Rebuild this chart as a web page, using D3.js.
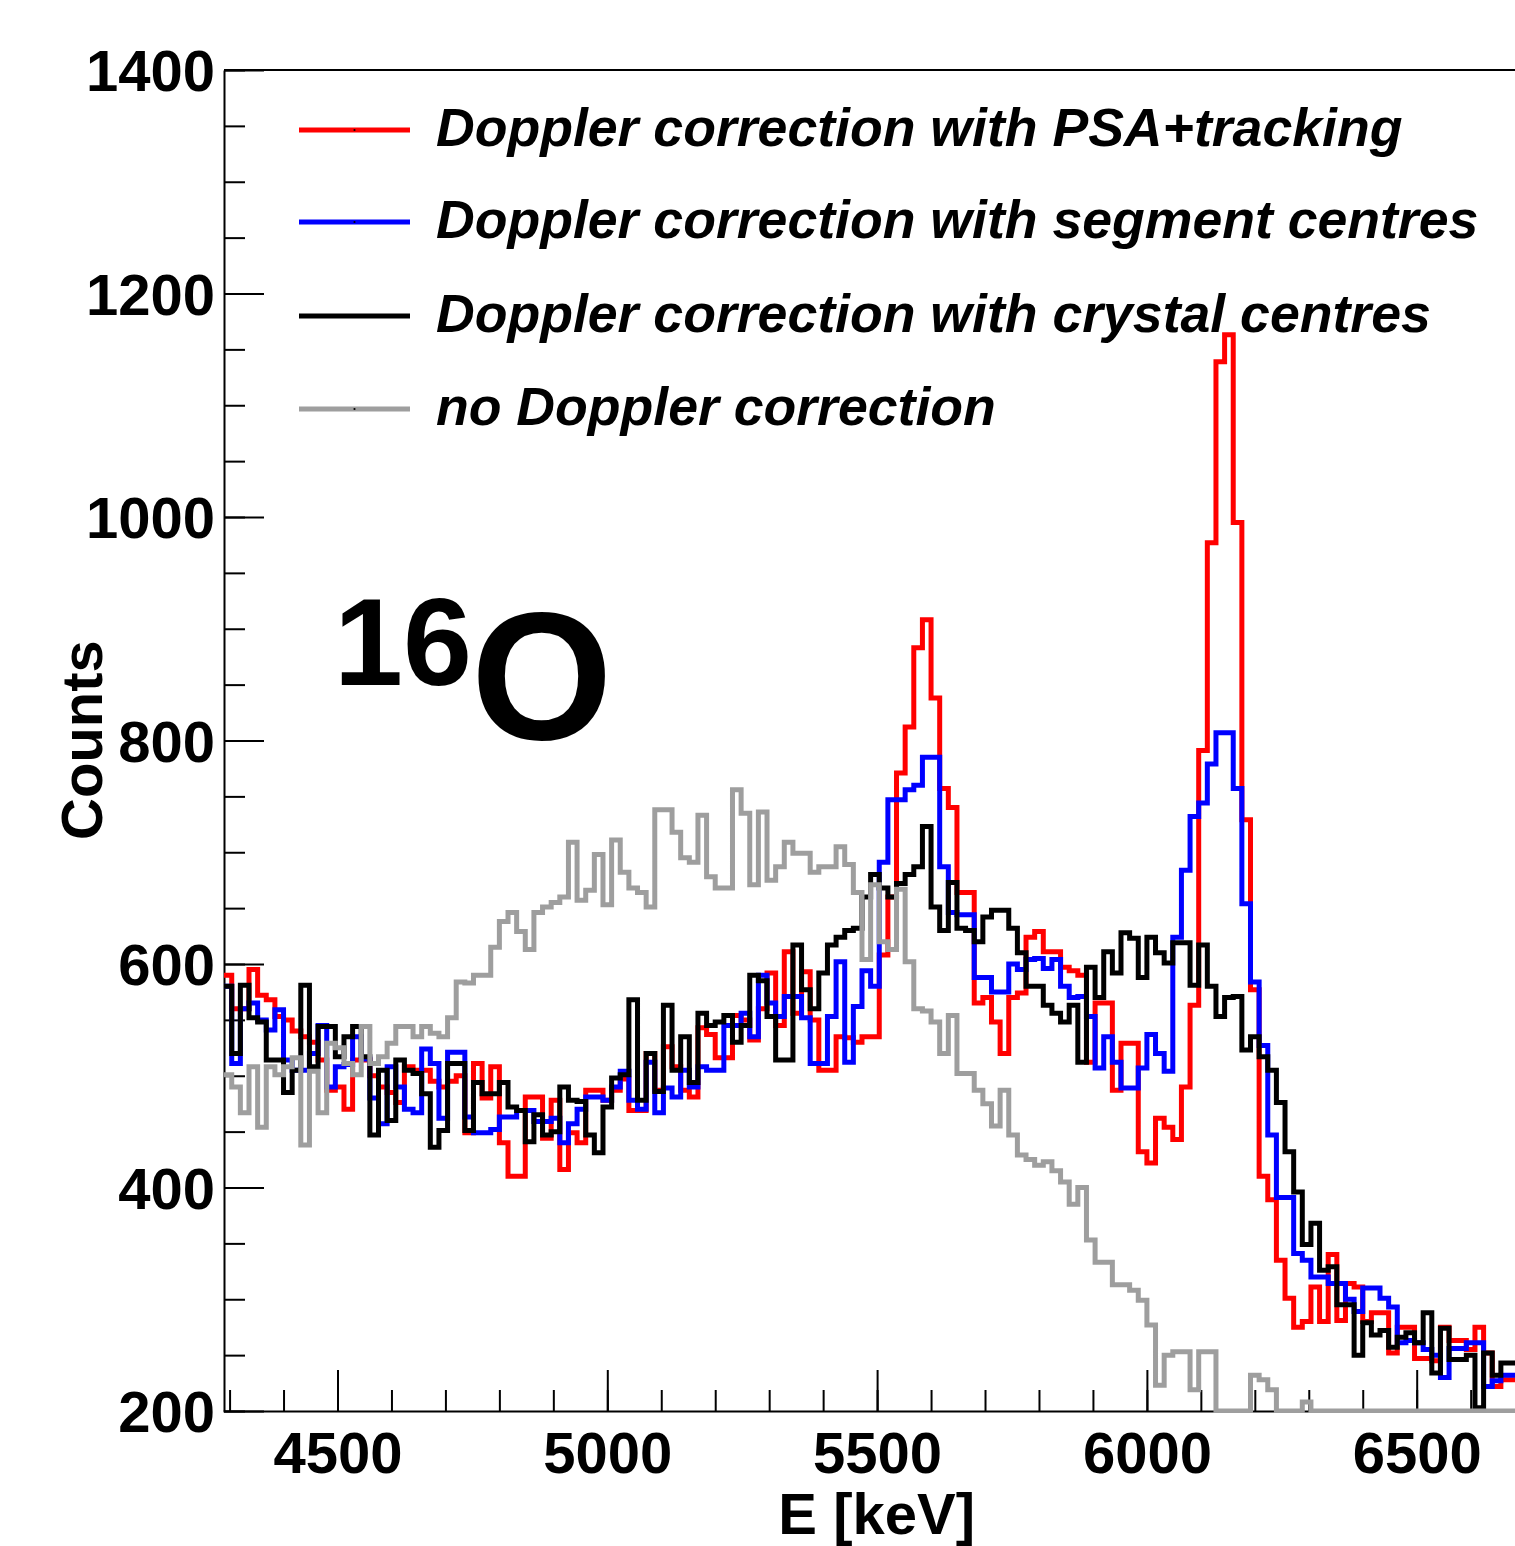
<!DOCTYPE html>
<html>
<head>
<meta charset="utf-8">
<script src="https://cdn.jsdelivr.net/npm/d3@7"></script>
<style>
  html, body { margin: 0; padding: 0; background: #fff; }
  svg { display: block; }
  text { font-family: "Liberation Sans", Arial, Helvetica, sans-serif; }
</style>
</head>
<body>
<script>
// Energy binning: 16 keV bins, first lower edge at 4288 keV
const binStart = 4288;
const binWidth = 16;

// Counts per bin, Doppler correction with PSA + tracking
const psaTracking = [
  590,560,560,595,572,568,553,550,540,535,
  530,514,487,490,470,514,514,500,490,485,
  476,508,505,505,495,490,495,500,449,511,
  480,508,440,410,410,481,481,444,478,416,
  449,440,487,487,478,487,497,469,469,520,
  487,526,508,487,481,543,537,516,516,554,
  550,532,560,592,545,611,556,593,550,505,
  505,535,534,530,535,535,608,660,771,812,
  883,908,838,757,740,664,664,565,570,548,
  520,570,574,624,629,611,611,597,594,590,
  512,565,565,487,529,529,432,422,462,454,
  443,490,563,791,977,1139,1163,995,729,577,
  410,389,335,301,275,280,311,280,340,281,
  314,311,280,288,288,252,275,275,247,247,
  245,275,263,263,255,275,252,222,228,228
];

// Counts per bin, Doppler correction with segment centres
const segmentCentres = [
  580,511,560,565,550,541,559,514,505,505,
  520,545,490,508,510,535,515,480,457,508,
  490,470,467,524,511,462,521,521,463,449,
  449,452,463,463,469,469,459,459,462,440,
  457,470,481,481,478,490,504,478,470,512,
  467,489,481,505,490,508,505,505,545,545,
  556,535,590,565,553,571,571,552,511,511,
  553,602,512,562,594,580,691,747,747,756,
  760,785,785,687,646,644,644,588,588,575,
  575,600,595,604,605,596,604,580,570,571,
  553,507,535,512,489,489,507,537,520,504,
  624,684,732,744,779,807,807,757,654,584,
  527,447,391,391,341,335,320,320,314,314,
  300,289,310,310,301,293,261,263,261,255,
  250,230,256,256,261,261,222,227,232,232
];

// Counts per bin, Doppler correction with crystal centres
const crystalCentres = [
  580,520,581,552,548,514,514,485,505,581,
  508,544,544,517,535,544,517,447,505,460,
  514,505,502,484,436,451,511,511,451,494,
  484,484,494,472,469,441,465,447,450,490,
  478,477,447,431,472,498,501,568,478,520,
  486,563,505,535,494,556,545,548,554,530,
  545,590,585,553,514,514,617,577,560,592,
  617,624,630,632,660,680,668,660,672,680,
  687,723,651,630,673,632,630,620,642,648,
  648,632,610,580,580,563,556,548,563,512,
  597,570,611,592,628,623,588,624,610,601,
  619,619,581,617,580,553,570,571,523,535,
  517,505,476,432,396,349,368,326,329,295,
  295,250,279,268,272,257,266,270,261,288,
  234,274,246,246,250,203,252,232,243,243
];

// Counts per bin, no Doppler correction
const noCorrection = [
  501,490,467,508,454,508,501,508,516,438,
  504,467,529,525,511,501,544,511,517,529,
  544,544,535,544,538,535,552,584,583,590,
  590,615,638,646,629,613,646,651,655,660,
  709,657,666,698,653,711,682,668,664,651,
  738,738,718,695,691,733,678,668,668,756,
  735,671,736,675,687,709,699,699,682,687,
  687,705,689,664,604,671,620,613,667,602,
  560,558,548,520,554,502,502,487,475,455,
  487,447,429,425,420,423,415,405,385,400,
  353,333,333,313,313,308,299,277,223,250,
  253,253,219,253,253,200,200,200,200,232,
  228,219,200,200,200,208,200,200,200,200,
  200,200,200,200,200,200,200,200,200,200,
  200,200,200,200,200,200,200,200,200,200
];

const legendLabels = [
  "Doppler correction with PSA+tracking",
  "Doppler correction with segment centres",
  "Doppler correction with crystal centres",
  "no Doppler correction"
];
const seriesColors = ["#ff0000", "#0000ff", "#000000", "#9e9e9e"];
const seriesData = [psaTracking, segmentCentres, crystalCentres, noCorrection];

const xMajorTicks = [4500, 5000, 5500, 6000, 6500];
const xMinorTicks = d3.range(4300, 6700, 100);
const yMajorTicks = [200, 400, 600, 800, 1000, 1200, 1400];
const yMinorTicks = d3.range(200, 1401, 50);

const W = 1515, H = 1546;
const frame = { left: 224, top: 70, bottom: 1411 };
const xMax = binStart + binWidth * 150;

const x = d3.scaleLinear().domain([binStart, xMax]).range([223.1, 223.1 + (xMax - binStart) * 0.5396]);
const y = d3.scaleLinear().domain([200, 1400]).range([frame.bottom, frame.top]);

const svg = d3.select("body").append("svg").attr("width", W).attr("height", H);

svg.append("defs").append("clipPath").attr("id", "plotClip")
  .append("rect").attr("x", frame.left).attr("y", frame.top - 2)
  .attr("width", 1400).attr("height", frame.bottom - frame.top + 4);

const labelFont = 58;

// Minor x ticks (every 100 keV), pointing into the frame
svg.append("g").attr("transform", `translate(0,${frame.bottom})`)
  .call(d3.axisBottom(x).tickValues(xMinorTicks).tickSize(-21).tickSizeOuter(0).tickFormat(""))
  .call(g => g.select(".domain").remove())
  .call(g => g.selectAll("line").attr("stroke", "#000").attr("stroke-width", 2));

// Major x ticks with labels
svg.append("g").attr("transform", `translate(0,${frame.bottom})`)
  .call(d3.axisBottom(x).tickValues(xMajorTicks).tickSize(-41).tickSizeOuter(0).tickPadding(21).tickFormat(d3.format("d")))
  .call(g => g.select(".domain").attr("stroke", "#000").attr("stroke-width", 2))
  .call(g => g.selectAll("line").attr("stroke", "#000").attr("stroke-width", 2))
  .call(g => g.selectAll("text").attr("fill", "#000").attr("font-size", labelFont).attr("font-weight", "bold")
    .attr("font-family", "'Liberation Sans', Arial, sans-serif"));

// Minor y ticks
svg.append("g").attr("transform", `translate(${frame.left},0)`)
  .call(d3.axisLeft(y).tickValues(yMinorTicks).tickSize(-21).tickSizeOuter(0).tickFormat(""))
  .call(g => g.select(".domain").remove())
  .call(g => g.selectAll("line").attr("stroke", "#000").attr("stroke-width", 2));

// Major y ticks with labels
svg.append("g").attr("transform", `translate(${frame.left},0)`)
  .call(d3.axisLeft(y).tickValues(yMajorTicks).tickSize(-40).tickSizeOuter(0).tickPadding(9).tickFormat(d3.format("d")))
  .call(g => g.select(".domain").attr("stroke", "#000").attr("stroke-width", 2))
  .call(g => g.selectAll("line").attr("stroke", "#000").attr("stroke-width", 2))
  .call(g => g.selectAll("text").attr("fill", "#000").attr("font-size", labelFont).attr("font-weight", "bold")
    .attr("dy", "0.36em").attr("font-family", "'Liberation Sans', Arial, sans-serif"));

// Top edge of the frame
svg.append("line").attr("x1", frame.left).attr("x2", W + 10)
  .attr("y1", frame.top).attr("y2", frame.top)
  .attr("stroke", "#000").attr("stroke-width", 2);

// Histograms drawn as step outlines
const stepLine = d3.line()
  .x(d => x(d[0]))
  .y(d => y(Math.max(200, Math.min(1400, d[1]))))
  .curve(d3.curveLinear);

function stepPoints(vals) {
  const pts = [];
  vals.forEach((v, i) => {
    const e0 = binStart + i * binWidth;
    pts.push([e0, v], [e0 + binWidth, v]);
  });
  return pts;
}

const plot = svg.append("g").attr("clip-path", "url(#plotClip)");
seriesData.forEach((vals, k) => {
  plot.append("path")
    .attr("d", stepLine(stepPoints(vals)))
    .attr("fill", "none")
    .attr("stroke", seriesColors[k])
    .attr("stroke-width", 5)
    .attr("stroke-linejoin", "miter")
    .attr("stroke-linecap", "butt");
});

// Legend
const legendY = [130, 222, 316, 409];
const legend = svg.append("g");
legendLabels.forEach((label, k) => {
  legend.append("line")
    .attr("x1", 299).attr("x2", 410)
    .attr("y1", legendY[k]).attr("y2", legendY[k])
    .attr("stroke", seriesColors[k]).attr("stroke-width", 5);
  legend.append("circle")
    .attr("cx", 354.5).attr("cy", legendY[k]).attr("r", 1.1).attr("fill", "#000");
  legend.append("text")
    .attr("x", 436).attr("y", legendY[k] + 16)
    .attr("font-size", 53.6).attr("font-weight", "bold").attr("font-style", "italic")
    .attr("fill", "#000")
    .text(label);
});

// Nucleus label
svg.append("text").attr("x", 334).attr("y", 685)
  .attr("font-size", 124).attr("font-weight", "bold").attr("fill", "#000")
  .text("16");
svg.append("text").attr("x", 471).attr("y", 739)
  .attr("font-size", 182).attr("font-weight", "bold").attr("fill", "#000")
  .text("O");

// Axis titles
svg.append("text").attr("x", 975).attr("y", 1534)
  .attr("text-anchor", "end").attr("font-size", 58).attr("font-weight", "bold").attr("fill", "#000")
  .text("E [keV]");
svg.append("text")
  .attr("transform", "translate(102,740) rotate(-90)")
  .attr("text-anchor", "middle").attr("font-size", 58).attr("font-weight", "bold").attr("fill", "#000")
  .text("Counts");
</script>
</body>
</html>
